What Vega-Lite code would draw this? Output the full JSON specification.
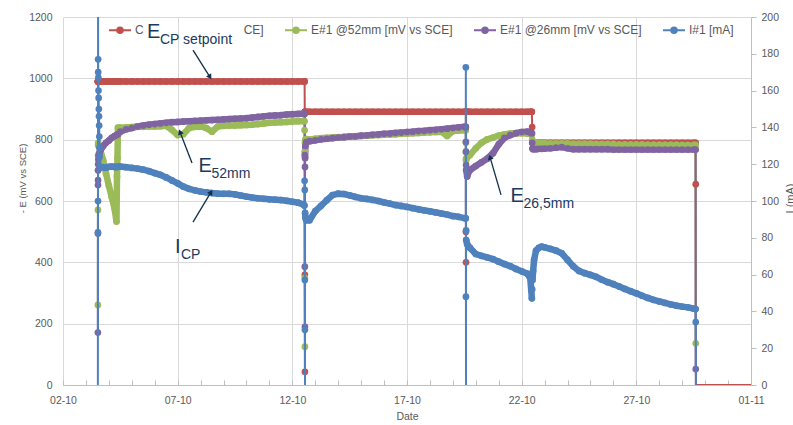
{
  "$schema": "https://vega.github.io/schema/vega-lite/v6.json",
  "width": 688,
  "height": 368,
  "autosize": {"type": "none"},
  "padding": {"left": 63, "top": 17, "right": 42, "bottom": 40},
  "background": "white",
  "config": {"view": {"stroke": null}, "font": "Liberation Sans"},
  "data": {"values": [
    {"t":"2023-10-03T12:30","a":990,"b":261,"c":171,"i":-5},
    {"t":"2023-10-03T12:34","a":990,"b":571,"c":494,"i":83},
    {"t":"2023-10-03T12:38","a":990,"b":700,"c":652,"i":100},
    {"t":"2023-10-03T12:42","a":990,"b":750,"c":668,"i":230},
    {"t":"2023-10-03T12:46","a":990,"b":783,"c":700,"i":177},
    {"t":"2023-10-03T12:50","a":990,"b":790,"c":720,"i":170},
    {"t":"2023-10-03T13:00","a":990,"b":785,"c":735,"i":167},
    {"t":"2023-10-03T13:10","i":160},
    {"t":"2023-10-03T13:20","b":780,"c":745,"i":156},
    {"t":"2023-10-03T13:30","i":150},
    {"t":"2023-10-03T13:40","b":778,"c":750,"i":146},
    {"t":"2023-10-03T13:50","i":141},
    {"t":"2023-10-03T14:00","a":990,"b":775,"c":755,"i":135},
    {"t":"2023-10-03T14:10","i":129},
    {"t":"2023-10-03T14:20","i":124},
    {"t":"2023-10-03T14:40","ph":1,"a":990,"b":770,"c":762,"i":118.5},
    {"t":"2023-10-03T18:00","ph":1,"a":990,"b":733,"c":779,"i":118.3},
    {"t":"2023-10-03T21:00","ph":1,"a":990,"b":690,"c":790,"i":118.1},
    {"t":"2023-10-04T00:00","ph":1,"a":990,"b":650,"c":797,"i":118.6},
    {"t":"2023-10-04T03:00","ph":1,"a":990,"b":612,"c":806,"i":118.7},
    {"t":"2023-10-04T06:00","ph":1,"a":990,"b":575,"c":812,"i":118.5},
    {"t":"2023-10-04T08:00","ph":1,"a":990,"b":533,"c":815,"i":118.5},
    {"t":"2023-10-04T08:30","ph":1,"b":680},
    {"t":"2023-10-04T09:00","ph":1,"b":740},
    {"t":"2023-10-04T09:30","ph":1,"a":990,"b":839,"c":818,"i":118.6},
    {"t":"2023-10-04T12:00","ph":1,"a":990,"b":839,"c":826,"i":118.7},
    {"t":"2023-10-04T18:00","ph":1,"a":990,"b":840,"c":834,"i":118.4},
    {"t":"2023-10-05T00:00","ph":1,"a":990,"b":841,"c":838,"i":118.0},
    {"t":"2023-10-05T06:00","ph":1,"a":990,"b":842,"c":843,"i":117.6},
    {"t":"2023-10-05T12:00","ph":1,"a":990,"b":842,"c":846,"i":117.0},
    {"t":"2023-10-05T18:00","ph":1,"a":990,"b":843,"c":849,"i":116.2},
    {"t":"2023-10-06T00:00","ph":1,"a":990,"b":843,"c":851,"i":115.2},
    {"t":"2023-10-06T06:00","ph":1,"a":990,"b":844,"c":853,"i":114.2},
    {"t":"2023-10-06T12:00","ph":1,"a":990,"b":845,"c":855,"i":112.8},
    {"t":"2023-10-06T18:00","ph":1,"a":990,"b":832,"c":857,"i":111.2},
    {"t":"2023-10-07T00:00","ph":1,"a":990,"b":815,"c":858,"i":109.6},
    {"t":"2023-10-07T06:00","ph":1,"a":990,"b":818,"c":859,"i":107.8},
    {"t":"2023-10-07T12:00","ph":1,"a":990,"b":838,"c":860,"i":106.6},
    {"t":"2023-10-07T18:00","ph":1,"a":990,"b":842,"c":861,"i":105.8},
    {"t":"2023-10-08T00:00","ph":1,"a":990,"b":843,"c":862,"i":105.1},
    {"t":"2023-10-08T06:00","ph":1,"a":990,"b":838,"c":863,"i":104.7},
    {"t":"2023-10-08T12:00","ph":1,"a":990,"b":826,"c":864,"i":104.3},
    {"t":"2023-10-08T18:00","ph":1,"a":990,"b":843,"c":865,"i":104.0},
    {"t":"2023-10-09T00:00","ph":1,"a":990,"b":845,"c":866,"i":103.9},
    {"t":"2023-10-09T06:00","ph":1,"a":990,"b":846,"c":867,"i":103.9},
    {"t":"2023-10-09T12:00","ph":1,"a":990,"b":846,"c":868,"i":103.6},
    {"t":"2023-10-09T18:00","ph":1,"a":990,"b":847,"c":869,"i":103.0},
    {"t":"2023-10-10T00:00","ph":1,"a":990,"b":848,"c":870,"i":102.4},
    {"t":"2023-10-10T06:00","ph":1,"a":990,"b":849,"c":872,"i":101.9},
    {"t":"2023-10-10T12:00","ph":1,"a":990,"b":851,"c":874,"i":101.5},
    {"t":"2023-10-10T18:00","ph":1,"a":990,"b":853,"c":876,"i":101.2},
    {"t":"2023-10-11T00:00","ph":1,"a":990,"b":855,"c":878,"i":100.9},
    {"t":"2023-10-11T06:00","ph":1,"a":990,"b":856,"c":879,"i":100.7},
    {"t":"2023-10-11T12:00","ph":1,"a":990,"b":857,"c":880,"i":100.5},
    {"t":"2023-10-11T18:00","ph":1,"a":990,"b":858,"c":882,"i":100.1},
    {"t":"2023-10-12T00:00","ph":1,"a":990,"b":859,"c":883,"i":99.6},
    {"t":"2023-10-12T06:00","ph":1,"a":990,"b":860,"c":884,"i":99.1},
    {"t":"2023-10-12T12:00","ph":1,"a":990,"b":861,"c":885,"i":98.0},
    {"t":"2023-10-12T12:40","ph":1,"a":990,"b":860,"c":885,"i":97.5},
    {"t":"2023-10-12T12:50","a":990,"b":831,"c":884,"i":111},
    {"t":"2023-10-12T13:00","a":891,"b":761,"c":750,"i":106},
    {"t":"2023-10-12T13:05","a":359,"b":349,"c":386,"i":57},
    {"t":"2023-10-12T13:10","a":43,"b":125,"c":190,"i":30},
    {"t":"2023-10-12T13:15","a":891,"b":761,"c":711,"i":-5},
    {"t":"2023-10-12T13:20","ph":2,"a":891,"b":790,"c":740,"i":93.5},
    {"t":"2023-10-12T13:40","ph":2,"a":891,"b":800,"c":780,"i":91},
    {"t":"2023-10-12T14:30","ph":2,"a":891,"b":802,"c":792,"i":89.5},
    {"t":"2023-10-12T18:00","ph":2,"a":891,"b":800,"c":795,"i":89.5},
    {"t":"2023-10-13T00:00","ph":2,"a":891,"b":803,"c":798,"i":94.5},
    {"t":"2023-10-13T06:00","ph":2,"a":891,"b":805,"c":801,"i":97.4},
    {"t":"2023-10-13T12:00","ph":2,"a":891,"b":806,"c":803,"i":100.4},
    {"t":"2023-10-13T18:00","ph":2,"a":891,"b":807,"c":805,"i":103.2},
    {"t":"2023-10-14T00:00","ph":2,"a":891,"b":808,"c":807,"i":104.0},
    {"t":"2023-10-14T06:00","ph":2,"a":891,"b":809,"c":808,"i":103.8},
    {"t":"2023-10-14T12:00","ph":2,"a":891,"b":810,"c":810,"i":103.1},
    {"t":"2023-10-14T18:00","ph":2,"a":891,"b":811,"c":811,"i":102.2},
    {"t":"2023-10-15T00:00","ph":2,"a":891,"b":812,"c":813,"i":101.5},
    {"t":"2023-10-15T06:00","ph":2,"a":891,"b":813,"c":814,"i":101.1},
    {"t":"2023-10-15T12:00","ph":2,"a":891,"b":814,"c":816,"i":100.6},
    {"t":"2023-10-15T18:00","ph":2,"a":891,"b":815,"c":817,"i":100.0},
    {"t":"2023-10-16T00:00","ph":2,"a":891,"b":816,"c":819,"i":99.2},
    {"t":"2023-10-16T06:00","ph":2,"a":891,"b":817,"c":820,"i":98.6},
    {"t":"2023-10-16T12:00","ph":2,"a":891,"b":818,"c":822,"i":97.8},
    {"t":"2023-10-16T18:00","ph":2,"a":891,"b":819,"c":823,"i":97.3},
    {"t":"2023-10-17T00:00","ph":2,"a":891,"b":820,"c":825,"i":96.8},
    {"t":"2023-10-17T06:00","ph":2,"a":891,"b":821,"c":826,"i":96.1},
    {"t":"2023-10-17T12:00","ph":2,"a":891,"b":822,"c":828,"i":95.5},
    {"t":"2023-10-17T18:00","ph":2,"a":891,"b":823,"c":829,"i":94.9},
    {"t":"2023-10-18T00:00","ph":2,"a":891,"b":824,"c":831,"i":94.4},
    {"t":"2023-10-18T06:00","ph":2,"a":891,"b":825,"c":832,"i":93.8},
    {"t":"2023-10-18T12:00","ph":2,"a":891,"b":826,"c":834,"i":93.2},
    {"t":"2023-10-18T18:00","ph":2,"a":891,"b":812,"c":836,"i":92.6},
    {"t":"2023-10-19T00:00","ph":2,"a":891,"b":828,"c":838,"i":91.8},
    {"t":"2023-10-19T06:00","ph":2,"a":891,"b":830,"c":840,"i":91.4},
    {"t":"2023-10-19T12:00","ph":2,"a":891,"b":831,"c":842,"i":90.7},
    {"t":"2023-10-19T13:30","ph":2,"a":891,"b":831,"c":842,"i":90.6},
    {"t":"2023-10-19T13:35","a":891,"b":790,"c":840,"i":172.7},
    {"t":"2023-10-19T13:40","a":500,"b":760,"c":793,"i":48},
    {"t":"2023-10-19T13:45","a":400,"b":734,"c":761,"i":-5},
    {"t":"2023-10-19T13:50","a":891,"b":734,"c":717,"i":84},
    {"t":"2023-10-19T13:55","ph":3,"a":891,"b":738,"c":701,"i":78.8},
    {"t":"2023-10-19T15:00","ph":3,"a":891,"b":743,"c":680,"i":76.5},
    {"t":"2023-10-19T16:00","ph":3,"a":891,"b":746,"c":692,"i":75.5},
    {"t":"2023-10-19T18:00","ph":3,"a":891,"b":750,"c":701,"i":74.5},
    {"t":"2023-10-20T00:00","ph":3,"a":891,"b":772,"c":714,"i":71.2},
    {"t":"2023-10-20T06:00","ph":3,"a":891,"b":790,"c":726,"i":70.2},
    {"t":"2023-10-20T12:00","ph":3,"a":891,"b":801,"c":738,"i":69.3},
    {"t":"2023-10-20T18:00","ph":3,"a":891,"b":807,"c":756,"i":68.4},
    {"t":"2023-10-21T00:00","ph":3,"a":891,"b":813,"c":785,"i":67.0},
    {"t":"2023-10-21T06:00","ph":3,"a":891,"b":817,"c":806,"i":65.7},
    {"t":"2023-10-21T12:00","ph":3,"a":891,"b":820,"c":815,"i":64.6},
    {"t":"2023-10-21T18:00","ph":3,"a":891,"b":821,"c":821,"i":63.1},
    {"t":"2023-10-22T00:00","ph":3,"a":891,"b":821,"c":825,"i":61.8},
    {"t":"2023-10-22T06:00","ph":3,"a":891,"b":820,"c":826,"i":60.5},
    {"t":"2023-10-22T09:00","ph":3,"a":891,"b":819,"c":824,"i":58},
    {"t":"2023-10-22T10:00","ph":3,"a":891,"b":818,"c":822,"i":51.6},
    {"t":"2023-10-22T10:40","ph":3,"a":891,"b":817,"c":821,"i":47.1},
    {"t":"2023-10-22T11:00","a":841,"b":800,"c":790,"i":52},
    {"t":"2023-10-22T11:20","ph":4,"a":790,"b":793,"c":771,"i":57},
    {"t":"2023-10-22T12:00","ph":4,"a":790,"b":792,"c":769,"i":62},
    {"t":"2023-10-22T13:00","ph":4,"i":68},
    {"t":"2023-10-22T15:00","ph":4,"a":790,"b":791,"c":769,"i":73},
    {"t":"2023-10-22T18:00","ph":4,"a":790,"b":790,"c":770,"i":74.6},
    {"t":"2023-10-22T21:00","ph":4,"a":790,"b":789,"c":770,"i":75.2},
    {"t":"2023-10-23T00:00","ph":4,"a":790,"b":789,"c":771,"i":74.8},
    {"t":"2023-10-23T06:00","ph":4,"a":790,"b":788,"c":772,"i":74.0},
    {"t":"2023-10-23T12:00","ph":4,"a":790,"b":788,"c":774,"i":73.0},
    {"t":"2023-10-23T18:00","ph":4,"a":790,"b":788,"c":776,"i":71.6},
    {"t":"2023-10-24T00:00","ph":4,"a":790,"b":788,"c":772,"i":68.0},
    {"t":"2023-10-24T06:00","ph":4,"a":790,"b":787,"c":769,"i":64.5},
    {"t":"2023-10-24T12:00","ph":4,"a":790,"b":787,"c":769,"i":62.0},
    {"t":"2023-10-24T18:00","ph":4,"a":790,"b":787,"c":769,"i":60.8},
    {"t":"2023-10-25T00:00","ph":4,"a":790,"b":787,"c":769,"i":59.8},
    {"t":"2023-10-25T06:00","ph":4,"a":790,"b":786,"c":769,"i":58.8},
    {"t":"2023-10-25T12:00","ph":4,"a":790,"b":786,"c":769,"i":57.2},
    {"t":"2023-10-25T18:00","ph":4,"a":790,"b":786,"c":769,"i":55.9},
    {"t":"2023-10-26T00:00","ph":4,"a":790,"b":786,"c":768,"i":54.8},
    {"t":"2023-10-26T06:00","ph":4,"a":790,"b":785,"c":768,"i":53.5},
    {"t":"2023-10-26T12:00","ph":4,"a":790,"b":785,"c":768,"i":52.2},
    {"t":"2023-10-26T18:00","ph":4,"a":790,"b":785,"c":768,"i":51.0},
    {"t":"2023-10-27T00:00","ph":4,"a":790,"b":785,"c":768,"i":49.8},
    {"t":"2023-10-27T06:00","ph":4,"a":790,"b":785,"c":768,"i":48.5},
    {"t":"2023-10-27T12:00","ph":4,"a":790,"b":784,"c":768,"i":47.3},
    {"t":"2023-10-27T18:00","ph":4,"a":790,"b":784,"c":768,"i":46.3},
    {"t":"2023-10-28T00:00","ph":4,"a":790,"b":784,"c":768,"i":45.4},
    {"t":"2023-10-28T06:00","ph":4,"a":790,"b":784,"c":768,"i":44.6},
    {"t":"2023-10-28T12:00","ph":4,"a":790,"b":784,"c":768,"i":43.8},
    {"t":"2023-10-28T18:00","ph":4,"a":790,"b":784,"c":768,"i":43.1},
    {"t":"2023-10-29T00:00","ph":4,"a":790,"b":783,"c":768,"i":42.6},
    {"t":"2023-10-29T06:00","ph":4,"a":790,"b":783,"c":768,"i":42.2},
    {"t":"2023-10-29T12:00","ph":4,"a":790,"b":783,"c":768,"i":41.5},
    {"t":"2023-10-29T14:00","ph":4,"a":790,"b":783,"c":768,"i":41.3},
    {"t":"2023-10-29T14:10","a":655,"b":136,"c":52,"i":34.2},
    {"t":"2023-10-29T14:20","a":0,"i":-5},
    {"t":"2023-11-01T00:00","a":0}
  ]},
  "encoding": {
    "x": {
      "field": "t", "type": "temporal", "title": "Date",
      "scale": {"domain": [{"year": 2023, "month": 10, "date": 2}, {"year": 2023, "month": 11, "date": 1}], "nice": false},
      "axis": {
        "tickCount": {"interval": "day", "step": 1},
        "labelExpr": "round((datum.value - datetime(2023, 9, 2)) / 864e5) % 5 == 0 ? timeFormat(datum.value, '%d-%m') : ''",
        "labelOverlap": false, "labelFlush": false,
        "grid": true, "gridColor": "#D9D9D9",
        "gridOpacity": {"condition": {"test": "round((datum.value - datetime(2023, 9, 2)) / 864e5) % 5 == 0", "value": 1}, "value": 0},
        "tickSize": -5, "tickColor": "#BFBFBF", "domainColor": "#BFBFBF",
        "labelPadding": 15, "labelFontSize": 10.5, "labelColor": "#595959",
        "titleFontSize": 10.5, "titleColor": "#595959", "titleFontWeight": "normal",
        "titleY": 26, "titleBaseline": "top"
      }
    },
    "color": {
      "field": "key", "type": "nominal",
      "scale": {"domain": ["a", "b", "c", "i"], "range": ["#C0504D", "#9BBB59", "#8064A2", "#4F81BD"]},
      "legend": {
        "orient": "none", "legendX": 45, "legendY": 1, "direction": "horizontal", "title": null,
        "padding": 0, "columnPadding": 17, "labelOffset": 3,
        "labelExpr": "datum.value == 'a' ? 'C' + pad('', 30, '\u00a0') + 'CE]' : datum.value == 'b' ? 'E#1 @52mm [mV vs SCE]' : datum.value == 'c' ? 'E#1 @26mm [mV vs SCE]' : 'I#1 [mA]'",
        "labelFontSize": 12, "labelColor": "#595959", "labelLimit": 300,
        "symbolType": "M-1,0H-0.25M0.25,0H1M-0.25,0A0.25,0.25,0,1,1,0.25,0A0.25,0.25,0,1,1,-0.25,0Z",
        "symbolSize": 484, "symbolStrokeWidth": 2,
        "encode": {"symbols": {"update": {"fill": {"scale": "color", "field": "value"}, "stroke": {"scale": "color", "field": "value"}, "opacity": {"value": 1}}}}
      }
    }
  },
  "layer": [
    {
      "transform": [{"fold": ["a", "b", "c"], "as": ["key", "value"]}, {"filter": "isValid(datum.value)"}],
      "encoding": {
        "y": {
          "field": "value", "type": "quantitative", "title": "- E (mV vs SCE)",
          "scale": {"domain": [0, 1200], "nice": false},
          "axis": {
            "values": [0, 200, 400, 600, 800, 1000, 1200], "format": "d",
            "grid": true, "gridColor": "#D9D9D9", "ticks": false, "domain": false,
            "labelPadding": 11, "labelFontSize": 10.5, "labelColor": "#595959",
            "titleFontSize": 9.5, "titleColor": "#595959", "titleFontWeight": "normal",
            "titleAngle": 270, "titleX": -38, "titleY": 161, "titleAlign": "center", "titleBaseline": "alphabetic"
          }
        }
      },
      "layer": [
        {
          "transform": [{"filter": "isValid(datum.ph)"}],
          "mark": {"type": "line", "strokeWidth": 6.5, "strokeCap": "round", "strokeJoin": "round", "clip": true},
          "encoding": {"detail": {"field": "ph", "type": "nominal"}}
        },
        {"mark": {"type": "line", "strokeWidth": 2, "clip": true}},
        {
          "transform": [{"filter": "datum.value > 0"}],
          "mark": {"type": "circle", "size": 45, "opacity": 1, "clip": true},
          "encoding": {"order": {"field": "key", "sort": "ascending"}}
        }
      ]
    },
    {
      "transform": [{"fold": ["i"], "as": ["key", "value"]}, {"filter": "isValid(datum.value)"}],
      "encoding": {
        "y": {
          "field": "value", "type": "quantitative", "title": "I (mA)",
          "scale": {"domain": [0, 200], "nice": false},
          "axis": {
            "orient": "right",
            "values": [0, 20, 40, 60, 80, 100, 120, 140, 160, 180, 200],
            "grid": false, "ticks": true, "tickSize": 5, "tickColor": "#BFBFBF",
            "domain": true, "domainColor": "#BFBFBF",
            "labelPadding": 5, "labelFontSize": 10.5, "labelColor": "#595959",
            "titleFontSize": 11, "titleColor": "#595959", "titleFontWeight": "normal",
            "titleAngle": 270, "titleX": 42, "titleY": 181, "titleAlign": "center", "titleBaseline": "alphabetic"
          }
        }
      },
      "layer": [
        {
          "transform": [{"filter": "isValid(datum.ph)"}],
          "mark": {"type": "line", "strokeWidth": 6.5, "strokeCap": "round", "strokeJoin": "round", "clip": true},
          "encoding": {"detail": {"field": "ph", "type": "nominal"}}
        },
        {"mark": {"type": "line", "strokeWidth": 2, "clip": true}},
        {
          "transform": [{"filter": "datum.value > 0"}],
          "mark": {"type": "circle", "size": 45, "opacity": 1, "clip": true}
        }
      ]
    },
    {
      "data": {"values": [
        {"t": "2023-10-05T15:55", "value": 1131, "big": "E", "sub": "CP setpoint", "at": "2023-10-07T16:03", "av": 1092, "bt": "2023-10-08T09:50", "bv": 1004},
        {"t": "2023-10-07T21:49", "value": 696, "big": "E", "sub": "52mm", "at": "2023-10-07T15:00", "av": 724, "bt": "2023-10-07T02:27", "bv": 825},
        {"t": "2023-10-06T21:13", "value": 430, "big": "I", "sub": "CP", "at": "2023-10-07T16:03", "av": 531, "bt": "2023-10-08T10:54", "bv": 629},
        {"t": "2023-10-21T12:19", "value": 598, "big": "E", "sub": "26,5mm", "at": "2023-10-21T02:24", "av": 620, "bt": "2023-10-20T14:53", "bv": 743}
      ]},
      "encoding": {
        "y": {"field": "value", "type": "quantitative", "scale": {"domain": [0, 1200], "nice": false}, "axis": null}
      },
      "layer": [
        {
          "mark": {"type": "rule", "strokeWidth": 1.3, "color": "#10304d"},
          "encoding": {
            "x": {"field": "at", "type": "temporal", "title": "Date"},
            "x2": {"field": "bt"},
            "y": {"field": "av", "type": "quantitative", "axis": null},
            "y2": {"field": "bv"},
            "color": {"value": "#10304d"}
          }
        },
        {
          "mark": {"type": "point", "shape": "triangle-up", "size": 36, "filled": true, "opacity": 1,
                   "angle": {"expr": "datum.sub == 'CP setpoint' ? 148 : datum.sub == '52mm' ? 339 : datum.sub == 'CP' ? 31 : 344"}},
          "encoding": {
            "x": {"field": "bt", "type": "temporal", "title": "Date"},
            "y": {"field": "bv", "type": "quantitative", "axis": null},
            "color": {"value": "#10304d"}
          }
        },
        {
          "mark": {"type": "text", "align": "left", "baseline": "alphabetic", "fontSize": 20, "font": "Liberation Sans"},
          "encoding": {"text": {"field": "big"}, "color": {"value": "#1b3a5c"}}
        },
        {
          "mark": {"type": "text", "align": "left", "baseline": "alphabetic", "fontSize": 14, "font": "Liberation Sans",
                   "dx": {"expr": "datum.big == 'I' ? 6 : 13"}, "dy": 6},
          "encoding": {"text": {"field": "sub"}, "color": {"value": "#1b3a5c"}}
        }
      ]
    }
  ],
  "resolve": {"scale": {"y": "independent"}}
}
